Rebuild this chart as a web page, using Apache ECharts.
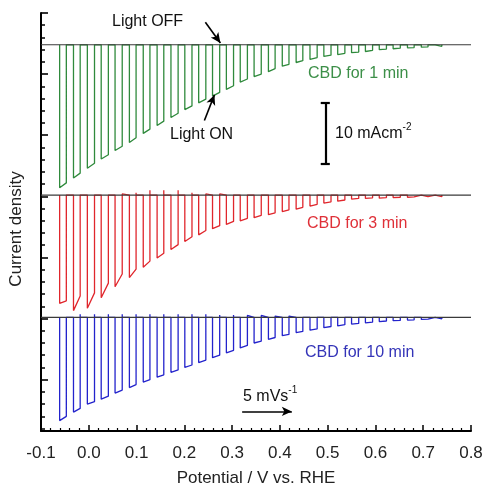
<!DOCTYPE html>
<html>
<head>
<meta charset="utf-8">
<script src="https://cdn.jsdelivr.net/npm/echarts@6/dist/echarts.min.js"></script>
<style>html,body{margin:0;padding:0;background:#fff}#c{width:486px;height:492px}</style>
</head>
<body>
<div id="c"></div>
<script>
// ---- data ----
const xTicks = [-0.1, 0.0, 0.1, 0.2, 0.3, 0.4, 0.5, 0.6, 0.7, 0.8];
const seriesNames = ['CBD for 1 min', 'CBD for 3 min', 'CBD for 10 min'];
const baselines = [24.8, 0.2, -19.8]; // vertical offset of each trace, mA cm-2
// light-on / light-off potentials (V vs. RHE)
const lightOnV  = [-0.061,-0.032,-0.003,0.026,0.055,0.085,0.114,0.143,0.172,0.201,0.230,0.259,0.288,0.317,0.346,0.376,0.405,0.434,0.463,0.492,0.521,0.550,0.579,0.608,0.637,0.667,0.696,0.725];
const lightOffV = [-0.047,-0.018,0.012,0.041,0.070,0.099,0.128,0.157,0.187,0.216,0.245,0.274,0.303,0.332,0.361,0.390,0.419,0.448,0.478,0.507,0.536,0.565,0.594,0.623,0.652,0.681,0.710,0.739];
// photocurrent magnitude right after light on (peak) and just before light off (end), mA cm-2
const peak1  = [23.4,21.8,20.2,18.7,17.3,16.0,14.5,13.2,11.9,10.6,9.5,8.4,7.3,6.1,5.2,4.4,3.5,2.9,2.4,1.9,1.6,1.3,1.1,0.8,0.65,0.5,0.4,0.3];
const end1   = [22.6,21.0,19.4,18.0,16.6,15.2,13.8,12.5,11.2,10.0,8.9,7.8,6.7,5.6,4.8,3.9,3.2,2.6,2.1,1.7,1.4,1.2,0.9,0.7,0.55,0.45,0.35,0.25];
const over1  = [0,0,0,0,0,0,0,0,0,0,0,0,0,0,0,0,0,0,0,0,0,0,0,0,0,0,0,0];
const peak3  = [17.7,18.9,18.5,16.8,15.0,13.5,11.8,10.3,8.9,7.6,6.5,5.5,4.8,4.2,3.7,3.2,2.7,2.3,1.8,1.3,1.0,0.65,0.55,0.5,0.4,0.35,0.3,0.3];
const end3   = [17.3,16.5,16.0,14.4,12.9,12.1,10.8,9.5,8.1,6.8,5.8,5.0,4.3,3.8,3.3,2.9,2.4,2.0,1.5,1.1,0.8,0.55,0.45,0.4,0.35,0.3,0.25,0.25];
const over3  = [0,0,0,0,0.2,0.4,0.8,0.8,0.8,0.4,0.2,0.2,0,0,0,0,0,0,0,0,0,0,0,0,0,0,0,0];
const peak10 = [16.9,15.5,14.2,13.4,12.4,11.5,10.6,9.8,9.0,8.2,7.4,6.6,5.8,5.0,4.2,3.6,3.0,2.5,2.1,1.7,1.4,1.1,0.9,0.7,0.55,0.45,0.35,0.3];
const end10  = [16.2,14.9,13.8,12.9,11.9,11.0,10.2,9.4,8.6,7.8,7.0,6.2,5.4,4.6,3.9,3.3,2.8,2.3,1.9,1.5,1.2,1.0,0.8,0.6,0.5,0.4,0.3,0.25];
const over10 = [0,0.5,0.5,0.5,0.5,0.5,0.5,0.5,0.5,0.5,0.5,0.4,0.4,0.3,0.3,0.2,0.2,0,0,0,0,0,0,0,0,0,0,0];
const scaleBar = [5.3, 15.3]; // 10 mA cm-2 bar
const scanArrow = [0.321, 0.425];

const colors = ['#2f8a3c', '#e0262c', '#2323cc'];
const textColors = ['#3c8f48', '#df3038', '#3434b8'];

function trace(peak, end, over, base) {
  const pts = [];
  for (let k = 0; k < lightOnV.length; k++) {
    pts.push([lightOnV[k], base]);
    pts.push([lightOnV[k], base - peak[k]]);
    pts.push([lightOffV[k], base - end[k]]);
    pts.push([lightOffV[k], base + over[k]]);
    pts.push([lightOffV[k], base]);
  }
  return pts;
}
const traces = [trace(peak1, end1, over1, baselines[0]),
                trace(peak3, end3, over3, baselines[1]),
                trace(peak10, end10, over10, baselines[2])];

const yMajor = [-30,-20,-10,0,10,20,30];
const yMinor = [];
for (let v = -38; v <= 30; v += 2) if (v % 10 !== 0) yMinor.push(v);

const FONT = '"Liberation Sans", Arial, sans-serif';
const chart = echarts.init(document.getElementById('c'), null, {renderer: 'canvas'});

const series = [];
traces.forEach((d, i) => series.push({
  type: 'line', name: seriesNames[i], data: d, showSymbol: false, symbol: 'none',
  lineStyle: {color: colors[i], width: 1.3}, z: 2, silent: true
}));
baselines.forEach(b => series.push({
  type: 'line', data: [[-0.1, b], [0.8, b]], showSymbol: false, symbol: 'none',
  lineStyle: {color: '#3a3a3a', width: 1.1}, z: 3, silent: true
}));
// annotations: arrows and scale bar, in data coordinates
series.push({
  type: 'line', data: [], silent: true,
  markLine: {
    silent: true, animation: false, symbol: ['none', 'arrow'], symbolSize: [7, 10],
    label: {show: false},
    lineStyle: {color: '#000', width: 1.6, type: 'solid'},
    data: [
      [{coord: [0.244, 28.5]}, {coord: [0.2755, 25.1]}],
      [{coord: [0.242, 12.4]}, {coord: [0.263, 16.6]}],
      [{coord: [scanArrow[0], -35.2]}, {coord: [scanArrow[1], -35.2]}]
    ]
  }
});
series.push({
  type: 'line', data: [], silent: true,
  markLine: {
    silent: true, animation: false, symbol: ['none', 'none'],
    label: {show: false},
    lineStyle: {color: '#000', width: 2.2, type: 'solid'},
    data: [
      [{coord: [0.495, scaleBar[0]]}, {coord: [0.495, scaleBar[1]]}],
      [{coord: [0.4855, scaleBar[0]]}, {coord: [0.5045, scaleBar[0]]}],
      [{coord: [0.4855, scaleBar[1]]}, {coord: [0.5045, scaleBar[1]]}]
    ]
  }
});

const yBase = {
  type: 'value', min: -38.4, max: 30, position: 'left',
  axisLabel: {show: false}, splitLine: {show: false}
};

chart.setOption({
  animation: false,
  backgroundColor: '#fff',
  grid: {left: 38, right: 15, top: 13, bottom: 55, containLabel: false},
  xAxis: {
    type: 'value', min: -0.1, max: 0.8, interval: 0.1,
    name: 'Potential / V vs. RHE', nameLocation: 'middle', nameGap: 39,
    nameTextStyle: {fontSize: 17, color: '#222', fontFamily: FONT},
    axisLine: {onZero: false, lineStyle: {color: '#000', width: 2}},
    axisTick: {show: true, inside: true, length: 6, lineStyle: {color: '#000', width: 1.5}},
    minorTick: {show: true, splitNumber: 5, length: 3, lineStyle: {color: '#000', width: 1.2}},
    splitLine: {show: false}, minorSplitLine: {show: false},
    axisLabel: {fontSize: 17, color: '#222', fontFamily: FONT, margin: 14,
      formatter: v => (Math.round(v * 10) / 10).toFixed(1)}
  },
  yAxis: [
    Object.assign({}, yBase, {
      name: 'Current density', nameLocation: 'middle', nameGap: 16,
      nameTextStyle: {fontSize: 17, color: '#222', fontFamily: FONT, padding: [0, 14, 0, 0]},
      axisLine: {show: true, onZero: false, lineStyle: {color: '#000', width: 2}},
      axisTick: {show: true, inside: true, length: 7, customValues: yMajor, lineStyle: {color: '#000', width: 1.6}}
    }),
    Object.assign({}, yBase, {
      axisLine: {show: false, onZero: false},
      axisTick: {show: true, inside: true, length: 4, customValues: yMinor, lineStyle: {color: '#000', width: 1.5}}
    })
  ],
  series: series,
  graphic: [
    {type: 'text', left: 112, top: 14, style: {text: 'Light OFF', fontSize: 16, fontFamily: FONT, fill: '#111'}},
    {type: 'text', left: 170, top: 127, style: {text: 'Light ON', fontSize: 16, fontFamily: FONT, fill: '#111'}},
    {type: 'text', left: 308, top: 66, style: {text: seriesNames[0], fontSize: 16, fontFamily: FONT, fill: textColors[0]}},
    {type: 'text', left: 307, top: 216, style: {text: seriesNames[1], fontSize: 16, fontFamily: FONT, fill: textColors[1]}},
    {type: 'text', left: 305, top: 345, style: {text: seriesNames[2], fontSize: 16, fontFamily: FONT, fill: textColors[2]}},
    {type: 'text', left: 335, top: 122, style: {
      text: '{a|10 mAcm}{s|-2}', fontFamily: FONT, fill: '#111',
      rich: {a: {fontSize: 16, lineHeight: 20, fontFamily: FONT, fill: '#111', verticalAlign: 'bottom'},
             s: {fontSize: 10, lineHeight: 12, fontFamily: FONT, fill: '#111', verticalAlign: 'top'}}}},
    {type: 'text', left: 243, top: 385, style: {
      text: '{a|5 mVs}{s|-1}', fontFamily: FONT, fill: '#111',
      rich: {a: {fontSize: 16, lineHeight: 20, fontFamily: FONT, fill: '#111', verticalAlign: 'bottom'},
             s: {fontSize: 10, lineHeight: 12, fontFamily: FONT, fill: '#111', verticalAlign: 'top'}}}}
  ]
});
</script>
</body>
</html>
